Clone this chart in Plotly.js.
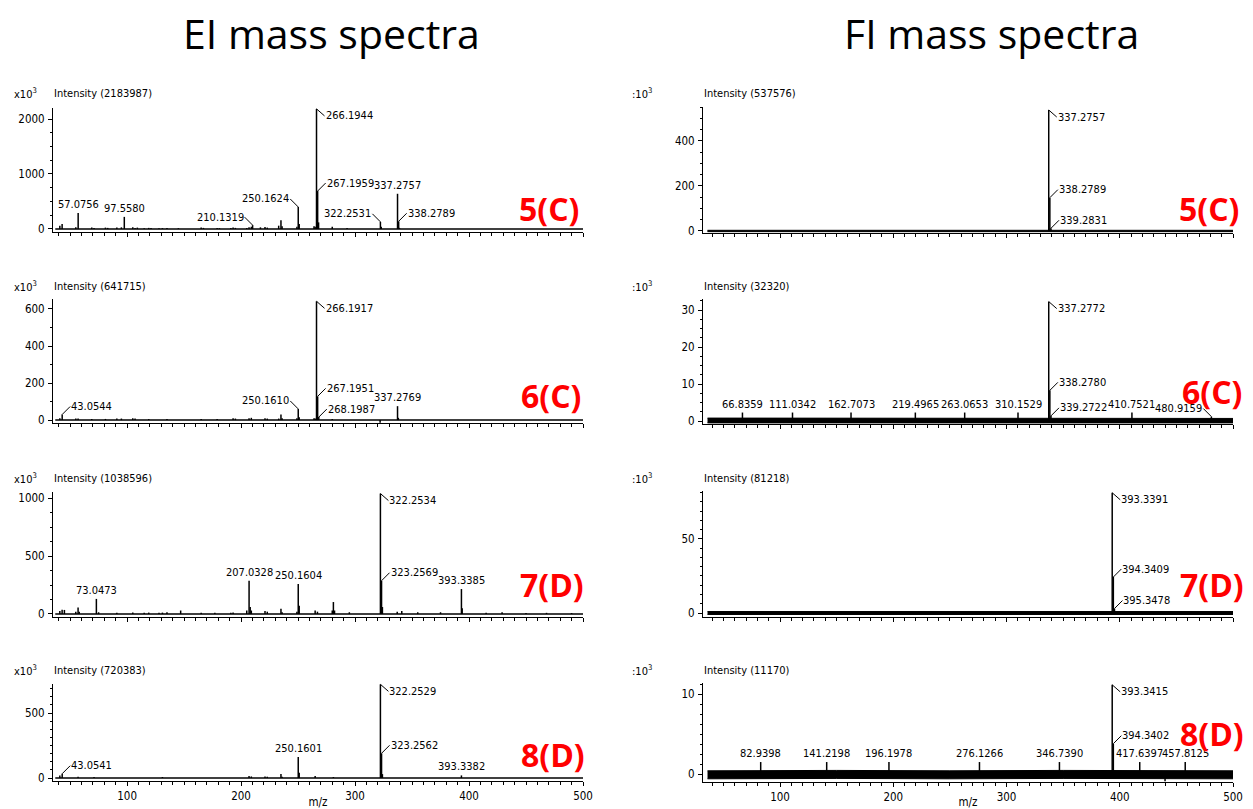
<!DOCTYPE html>
<html>
<head>
<meta charset="utf-8">
<script src="https://cdn.plot.ly/plotly-3.0.1.min.js"></script>
<style>html,body{margin:0;padding:0;background:#fff;}#chart{width:1253px;height:809px;}</style>
</head>
<body>
<div id="chart"></div>
<script>
// ---------------- DATA (m/z, intensity in x10^3) ----------------
// EI 5(C)
const EI5C_mz  = [41,43,55,57.0756,69,71,81,83,91,95,97.5580,105,107,109,115,119,121,128,131,135,145,165,167,179,181,191,193,195,205,207,209,210.1319,217,221,223,233,235,236,249,250.1624,251,264,265,266.1944,267.1959,268,280,293,322.2531,323,337.2757,338.2789,339];
const EI5C_int = [60,90,30,290,25,20,25,20,25,30,220,30,20,25,15,20,20,15,15,20,15,25,20,20,15,20,25,20,20,30,40,70,30,35,25,60,160,50,40,400,90,50,40,2184,690,120,40,20,130,40,640,140,20];
const EI5C_labels = ["57.0756","97.5580","210.1319","250.1624","266.1944","267.1959","322.2531","337.2757","338.2789"];
// EI 6(C)
const EI6C_mz  = [41,43.0544,55,57,69,81,91,95,105,107,119,135,165,179,193,195,207,209,221,223,233,235,236,249,250.1610,251,264,265,266.1917,267.1951,268.1987,280,322,337.2769,338];
const EI6C_int = [10,30,8,8,6,6,8,8,10,8,5,6,6,6,10,8,10,12,10,8,8,30,10,10,60,15,10,8,641.7,128,16,6,-15,75,12];
const EI6C_labels = ["43.0544","250.1610","266.1917","267.1951","268.1987","337.2769"];
// EI 7(D)
const EI7D_mz  = [41,43,45,55,57,58,73.0473,75,91,105,115,119,128,131,135,147,165,177,191,193,205,207.0328,208,209,221,223,235,236,249,250.1604,251,265,267,280,281,282,295,322.2534,323.2569,324,337,341,355,375,393.3385,394,415,429,450,468,490];
const EI7D_int = [25,37,35,20,57,20,130,15,10,12,10,12,10,12,15,30,10,10,10,12,30,287,60,30,25,20,45,15,20,259,70,30,20,30,103,30,15,1038.6,287,60,20,25,15,15,215,50,10,15,8,10,8];
const EI7D_labels = ["73.0473","207.0328","250.1604","322.2534","323.2569","393.3385"];
// EI 8(D)
const EI8D_mz  = [41,43.0541,57,71,131,207,209,221,223,235,236,250.1601,251,265,281,322.2529,323.2562,324,393.3382];
const EI8D_int = [20,33,10,8,8,15,12,12,10,30,10,161,40,15,8,720.4,190,30,20];
const EI8D_labels = ["43.0541","250.1601","322.2529","323.2562","393.3382"];
// FI 5(C)
const FI5C_mz  = [337.2757,338.2789,339.2831];
const FI5C_int = [537.6,148,12];
const FI5C_labels = ["337.2757","338.2789","339.2831"];
const FI5C_noise_mz = [36,500], FI5C_noise_hi = [3,3], FI5C_noise_lo = [-3,-3];
// FI 6(C)
const FI6C_mz  = [66.8359,111.0342,162.7073,219.4965,263.0653,310.1529,337.2772,338.2780,339.2722,410.7521,480.9159];
const FI6C_int = [2.3,2.3,2.3,2.3,2.3,2.3,32.3,8.3,1.4,2.3,1.2];
const FI6C_labels = ["66.8359","111.0342","162.7073","219.4965","263.0653","310.1529","337.2772","338.2780","339.2722","410.7521","480.9159"];
const FI6C_noise_mz = [36,150,250,350,500], FI6C_noise_hi = [0.8,0.8,0.75,0.8,0.7], FI6C_noise_lo = [-0.5,-0.45,-0.5,-0.45,-0.5];
// FI 7(D)
const FI7D_mz  = [393.3391,394.3409,395.3478];
const FI7D_int = [81.2,24.3,3];
const FI7D_labels = ["393.3391","394.3409","395.3478"];
const FI7D_noise_mz = [36,500], FI7D_noise_hi = [1.0,1.0], FI7D_noise_lo = [-1.0,-1.0];
// FI 8(D)
const FI8D_mz  = [82.9398,141.2198,196.1978,276.1266,346.7390,393.3415,394.3402,417.6397,440,457.8125];
const FI8D_int = [1.5,1.5,1.5,1.5,1.5,11.17,3.8,1.5,-0.9,1.5];
const FI8D_labels = ["82.9398","141.2198","196.1978","276.1266","346.7390","393.3415","394.3402","417.6397","457.8125"];
const FI8D_noise_mz = [36,150,250,350,500], FI8D_noise_hi = [0.4,0.45,0.4,0.45,0.4], FI8D_noise_lo = [-0.6,-0.55,-0.6,-0.55,-0.6];

const intensityTotals = ["2183987","537576","641715","32320","1038596","81218","720383","11170"];
const sampleNames = ["5(C)","5(C)","6(C)","6(C)","7(D)","7(D)","8(D)","8(D)"];
const columnTitles = ["EI mass spectra","FI mass spectra"];
const xTickVals = [100,200,300,400,500];

// ---------------- LAYOUT / STYLE ----------------
const W = 1253, H = 809;
const px = v => v / W, py = v => 1 - v / H;
const NF = 'Liberation Sans Narrow, Arial Narrow, DejaVu Sans Condensed, sans-serif';
const lblFont = {family: NF, size: 11, color: '#000'};
const tickFont = {family: NF, size: 11.5, color: '#000'};

const panels = [
  {mz:EI5C_mz,it:EI5C_int,lab:EI5C_labels,sty:["up","up","ul","ul","dr","ur","ul","up","ur"],x:[53,583],xr:[35,500],y:[108,232],yr:[-55,2200],dt:1000,mn:250,left:true},
  {mz:FI5C_mz,it:FI5C_int,lab:FI5C_labels,sty:["dr","ur","ur"],noise:[FI5C_noise_mz,FI5C_noise_hi,FI5C_noise_lo],x:[703,1233],xr:[32,500],y:[107,233],yr:[-9,551],dt:200,mn:50,left:false},
  {mz:EI6C_mz,it:EI6C_int,lab:EI6C_labels,sty:["ur","ul","dr","ur","ur","up"],x:[53,583],xr:[35,500],y:[299,423],yr:[-16,654],dt:200,mn:100,left:true},
  {mz:FI6C_mz,it:FI6C_int,lab:FI6C_labels,sty:["up","up","up","up","up","up","dr","ur","ur","up","ul"],noise:[FI6C_noise_mz,FI6C_noise_hi,FI6C_noise_lo],x:[703,1233],xr:[32,500],y:[299,424],yr:[-0.8,33],dt:10,mn:2.5,left:false},
  {mz:EI7D_mz,it:EI7D_int,lab:EI7D_labels,sty:["up","up","up","dr","ur","up"],x:[53,583],xr:[35,500],y:[492,617],yr:[-26,1052],dt:500,mn:125,left:true},
  {mz:FI7D_mz,it:FI7D_int,lab:FI7D_labels,sty:["dr","ur","ur"],noise:[FI7D_noise_mz,FI7D_noise_hi,FI7D_noise_lo],x:[703,1233],xr:[32,500],y:[491,617],yr:[-2.7,82.4],dt:50,mn:6.25,left:false},
  {mz:EI8D_mz,it:EI8D_int,lab:EI8D_labels,sty:["ur","up","dr","ur","up"],x:[53,583],xr:[35,500],y:[684,781],yr:[-23,723],dt:500,mn:62.5,left:true,bottom:true},
  {mz:FI8D_mz,it:FI8D_int,lab:FI8D_labels,sty:["up","up","up","up","up","dr","ur","up","up"],noise:[FI8D_noise_mz,FI8D_noise_hi,FI8D_noise_lo],x:[703,1233],xr:[32,500],y:[683,782],yr:[-1,11.4],dt:10,mn:1.25,left:false,bottom:true}
];
const headerY = [94,94,286,286,478,478,670,670];
const redPos = [[549,208],[1209,208],[551,396],[1212,392],[552,584],[1212,584],[553,754],[1212,733]];

const traces = [], annotations = [];
const layout = {
  width: W, height: H, margin: {l:0,r:0,t:0,b:0},
  paper_bgcolor: '#fff', plot_bgcolor: 'rgba(0,0,0,0)', showlegend: false,
  font: {family: NF, size: 11, color: '#000'}
};

panels.forEach((p, i) => {
  const n = i + 1;
  const xa = 'x' + (n === 1 ? '' : n), ya = 'y' + (n === 1 ? '' : n);
  const xk = 'xaxis' + (n === 1 ? '' : n), yk = 'yaxis' + (n === 1 ? '' : n);
  layout[xk] = {
    domain: [px(p.x[0]), px(p.x[1])], range: p.xr, anchor: ya,
    showline: true, linecolor: '#000', linewidth: 1, showgrid: false, zeroline: false,
    tickmode: 'array', tickvals: xTickVals, ticks: 'outside', ticklen: 4, tickcolor: '#000',
    minor: {dtick: 10, tick0: 0, ticks: 'outside', ticklen: 3, tickcolor: '#000', showgrid: false},
    showticklabels: !!p.bottom, tickfont: tickFont, fixedrange: true
  };
  if (p.bottom) layout[xk].title = {text: 'm/z', font: tickFont, standoff: 7};
  layout[yk] = {
    domain: [py(p.y[1]), py(p.y[0])], range: p.yr, anchor: xa,
    showline: true, linecolor: '#000', linewidth: 1, showgrid: false, zeroline: false,
    tick0: 0, dtick: p.dt, ticks: 'outside', ticklen: 4, tickcolor: '#000',
    minor: {dtick: p.mn, tick0: 0, ticks: 'outside', ticklen: 2, tickcolor: '#000', showgrid: false},
    tickfont: tickFont, ticklabelstandoff: 1, fixedrange: true
  };
  // baseline / noise band
  if (p.noise) {
    traces.push({type:'scatter', mode:'lines', x:p.noise[0], y:p.noise[2], xaxis:xa, yaxis:ya, line:{color:'#000', width:1}, hoverinfo:'skip'});
    traces.push({type:'scatter', mode:'lines', x:p.noise[0], y:p.noise[1], xaxis:xa, yaxis:ya, fill:'tonexty', fillcolor:'#000', line:{color:'#000', width:1}, hoverinfo:'skip'});
  } else {
    traces.push({type:'scatter', mode:'lines', x:[p.xr[0]+2, p.xr[1]], y:[0,0], xaxis:xa, yaxis:ya, line:{color:'#000', width:1.5}, hoverinfo:'skip'});
  }
  // sticks
  const sx = [], sy = [];
  p.mz.forEach((m, k) => { sx.push(m, m, null); sy.push(0, p.it[k], null); });
  traces.push({type:'scatter', mode:'lines', x:sx, y:sy, xaxis:xa, yaxis:ya, line:{color:'#000', width:1.5}, connectgaps:false, hoverinfo:'skip'});
  // peak labels
  p.lab.forEach((t, k) => {
    const m = parseFloat(t);
    const idx = p.mz.findIndex(v => Math.abs(v - m) < 0.01);
    const yv = p.it[idx];
    const base = {x: m, y: yv, xref: xa, yref: ya, text: t, font: lblFont, borderpad: 0,
                  showarrow: true, arrowhead: 0, arrowwidth: 1, arrowcolor: '#000', standoff: 0};
    const s = p.sty[k];
    if (s === 'up') annotations.push(Object.assign(base, {showarrow: false, xanchor: 'center', yanchor: 'bottom', yshift: 1}));
    else if (s === 'dr') annotations.push(Object.assign(base, {ax: 8, ay: 7, xanchor: 'left', yanchor: 'middle'}));
    else if (s === 'ur') annotations.push(Object.assign(base, {ax: 8, ay: -8, xanchor: 'left', yanchor: 'middle'}));
    else if (s === 'ul') annotations.push(Object.assign(base, {ax: -8, ay: -8, xanchor: 'right', yanchor: 'middle'}));
  });
  // headers
  annotations.push({xref:'paper', yref:'paper', x: px(p.left ? 12 : 630), y: py(headerY[i]), xanchor:'left', yanchor:'middle',
    text: (p.left ? 'x10' : ':10') + '<sup>3</sup>', showarrow:false, font: lblFont});
  annotations.push({xref:'paper', yref:'paper', x: px(p.left ? 52 : 702), y: py(headerY[i]), xanchor:'left', yanchor:'middle',
    text: 'Intensity (' + intensityTotals[i] + ')', showarrow:false, font: lblFont});
  // red sample label
  annotations.push({xref:'paper', yref:'paper', x: px(redPos[i][0]), y: py(redPos[i][1]), xanchor:'center', yanchor:'middle',
    text: '<b>' + sampleNames[i] + '</b>', showarrow:false, font: {family:'Open Sans, Lato, sans-serif', size: 32, color: '#ff0000'}});
});

columnTitles.forEach((t, c) => {
  annotations.push({xref:'paper', yref:'paper', x: px(c === 0 ? 331 : 991), y: py(33), xanchor:'center', yanchor:'middle',
    text: t, showarrow:false, font: {family:'Open Sans, Lato, sans-serif', size: 41, color:'#000'}});
});

layout.annotations = annotations;
Plotly.newPlot('chart', traces, layout, {displayModeBar: false, staticPlot: true});
</script>
</body>
</html>
